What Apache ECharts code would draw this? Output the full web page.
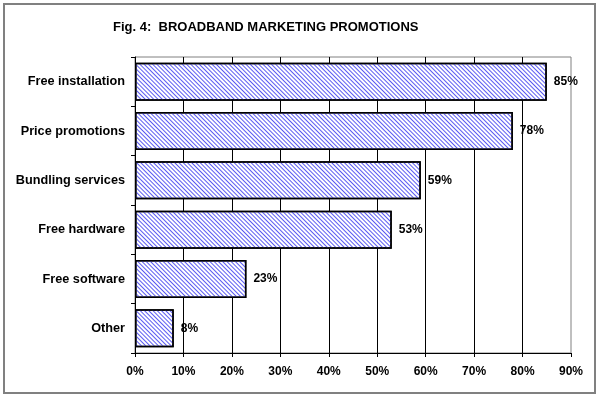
<!DOCTYPE html>
<html>
<head>
<meta charset="utf-8">
<script src="https://cdn.jsdelivr.net/npm/echarts@6/dist/echarts.min.js"></script>
<style>
  html, body { margin: 0; padding: 0; background: #fff; }
  #chart { width: 599px; height: 398px; }
</style>
</head>
<body>
<div id="chart"></div>
<script>
const categories = ['Free installation', 'Price promotions', 'Bundling services', 'Free hardware', 'Free software', 'Other']
const values = [85, 78, 59, 53, 23, 8]

const font = 'Liberation Sans, Arial, sans-serif'
const chart = echarts.init(document.getElementById('chart'), null, { renderer: 'canvas' })

chart.setOption({
  animation: false,
  title: {
    text: 'Fig. 4:  BROADBAND MARKETING PROMOTIONS',
    left: 108,
    top: 16,
    textStyle: { fontFamily: font, fontSize: 13, fontWeight: 'bold', color: '#000' },
  },
  graphic: [{
    type: 'rect',
    shape: { x: 4, y: 4, width: 591, height: 389 },
    style: { fill: null, stroke: '#808080', lineWidth: 2 },
    silent: true,
  }],
  grid: {
    left: 135,
    right: 28,
    top: 57,
    bottom: 45,
    show: true,
    borderColor: '#808080',
    borderWidth: 1,
  },
  xAxis: {
    type: 'value',
    min: 0,
    max: 90,
    interval: 10,
    axisLine: { show: true, lineStyle: { color: '#000' } },
    axisTick: { show: true, length: 4, lineStyle: { color: '#000' } },
    axisLabel: {
      formatter: '{value}%',
      color: '#000',
      fontFamily: font,
      fontSize: 12,
      fontWeight: 'bold',
      margin: 13,
    },
    splitLine: { show: true, showMaxLine: false, lineStyle: { color: '#000', width: 1 } },
  },
  yAxis: {
    type: 'category',
    data: categories,
    inverse: true,
    axisLine: { show: true, lineStyle: { color: '#000' } },
    axisTick: { show: true, length: 4, lineStyle: { color: '#000' } },
    axisLabel: {
      color: '#000',
      fontFamily: font,
      fontSize: 12.7,
      fontWeight: 'bold',
      margin: 10,
    },
  },
  series: [{
    type: 'bar',
    data: values,
    barCategoryGap: '23%',
    itemStyle: {
      color: '#ffffff',
      borderColor: '#000',
      borderWidth: 1.5,
      // hatch like the original
      decal: {
        symbol: 'rect',
        symbolSize: 1,
        color: '#5a5af2',
        dashArrayX: [1, 0],
        dashArrayY: [1, 2],
        rotation: Math.PI / 4,
      },
    },
    label: {
      show: true,
      position: 'right',
      distance: 7,
      formatter: '{c}%',
      color: '#000',
      fontFamily: font,
      fontSize: 12,
      fontWeight: 'bold',
    },
  }],
})
</script>
</body>
</html>
